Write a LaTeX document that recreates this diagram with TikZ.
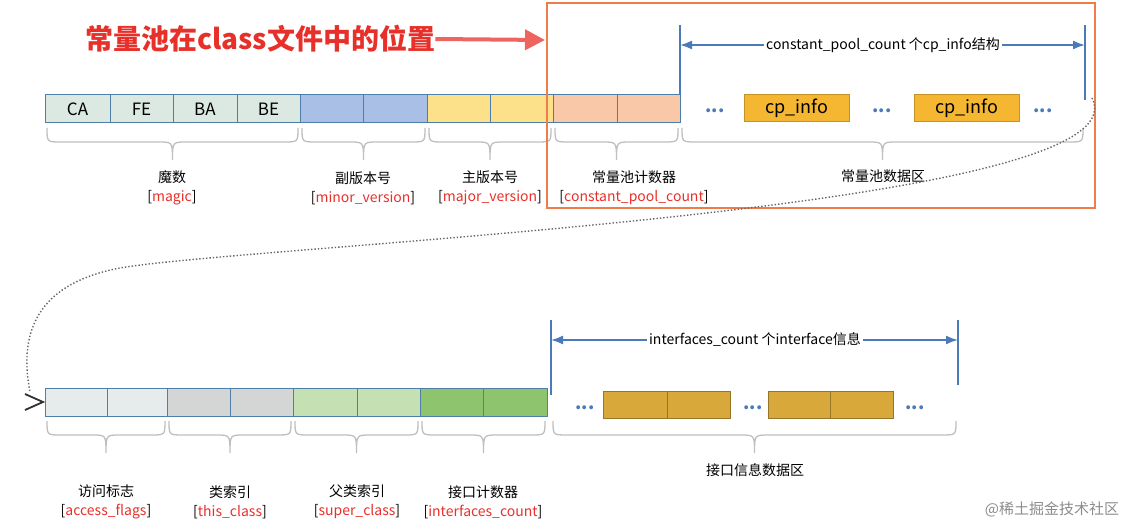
\documentclass[tikz,border=0pt]{standalone}
\usepackage{fontspec}
\setmainfont{Noto Sans CJK SC}
\usetikzlibrary{arrows.meta}
\definecolor{magicc}{HTML}{DCE9E3}
\definecolor{minorc}{HTML}{A9BFE6}
\definecolor{majorc}{HTML}{FDE18A}
\definecolor{cpcc}{HTML}{F8C8A8}
\definecolor{cpi}{HTML}{F5B731}
\definecolor{acc}{HTML}{E6EBEB}
\definecolor{thisc}{HTML}{D4D6D6}
\definecolor{superc}{HTML}{C5E0B2}
\definecolor{ifc}{HTML}{8FC46E}
\definecolor{ifi}{HTML}{D9A83A}
\definecolor{edge}{HTML}{4F7EA8}
\definecolor{arrc}{HTML}{4A7AB8}
\definecolor{orng}{HTML}{EE7D4A}
\definecolor{redt}{HTML}{E8302A}
\tikzset{
 cell/.style={draw=edge, line width=1pt, minimum height=28pt, inner sep=0pt, font=\fontsize{17}{19}\selectfont},
 brc/.style={draw=black!25, line width=1.3pt},
 lab/.style={font=\fontsize{14}{19}\selectfont, align=center},
 dim/.style={draw=arrc, line width=1.8pt, {Latex[length=12pt,width=9pt]}-{Latex[length=12pt,width=9pt]}},
 bar/.style={draw=arrc, line width=1.8pt},
 dots/.style={text=arrc, font=\fontsize{18}{20}\selectfont\bfseries},
}
\newcommand{\rl}[1]{\textcolor{redt}{#1}}
% \mybrc{x1}{x2}{y}: brace 32 deep
\newcommand{\mybrc}[3]{%
 \pgfmathsetmacro{\xm}{(#1+#2)/2}%
 \draw[brc] (#1,#3) .. controls (#1,#3+14) .. (#1+14,#3+14) -- (\xm-14,#3+14) .. controls (\xm,#3+14) .. (\xm,#3+32)
   .. controls (\xm,#3+14) .. (\xm+14,#3+14) -- (#2-14,#3+14) .. controls (#2,#3+14) .. (#2,#3);}
\begin{document}
\begin{tikzpicture}[x=1pt,y=-1pt]
\useasboundingbox (0,0) rectangle (1143,532);
\foreach \a/\b/\c/\t [count=\i] in {45/110/magicc/CA,110/173/magicc/FE,173/237/magicc/BA,237/300/magicc/BE,300/363/minorc/,363/427/minorc/,427/490/majorc/,490/553/majorc/,553/617/cpcc/,617/680/cpcc/}
  \node[cell, fill=\c, minimum width={(\b-\a)*1pt}] (t\i) at ({(\a+\b)/2},109) {\t};
\node[dots] (d1) at (715,111) {...};
\node[cell, draw=cpi!80!black, fill=cpi, minimum width=105pt, minimum height=27pt, font=\fontsize{18}{20}\selectfont] (cp1) at (797,108) {cp\_info};
\node[dots] (d2) at (882,111) {...};
\node[cell, draw=cpi!80!black, fill=cpi, minimum width=105pt, minimum height=27pt, font=\fontsize{18}{20}\selectfont] (cp2) at (967,108) {cp\_info};
\node[dots] (d3) at (1043,111) {...};
\mybrc{47}{298}{128}
\mybrc{302}{425}{128}
\mybrc{429}{551}{128}
\mybrc{555}{678}{128}
\mybrc{682}{1083}{128}
\node[lab] (l1) at (172,188) {魔数\\{[}\rl{magic}{]}};
\node[lab] (l2) at (363,188) {副版本号\\{[}\rl{minor\_version}{]}};
\node[lab] (l3) at (490,188) {主版本号\\{[}\rl{major\_version}{]}};
\node[lab] (l4) at (634,188) {常量池计数器\\{[}\rl{constant\_pool\_count}{]}};
\node[lab] (l5) at (883,176) {常量池数据区};
\coordinate (ba) at (680,25); \coordinate (bb) at (680,95);
\coordinate (bc) at (1085,25); \coordinate (bd) at (1085,100);
\draw[bar] (ba) -- (bb); \draw[bar] (bc) -- (bd);
\draw[dim] (680,45) -- (1085,45);
\node[lab, fill=white, inner sep=2pt] (dt) at (883,45) {constant\_pool\_count 个cp\_info结构};
\draw[orng, line width=2.8pt] (547,3) rectangle (1095,208);
\node[text=redt, font=\fontsize{28}{30}\selectfont\bfseries, anchor=west, inner sep=0pt] (ttl) at (85,39) {常量池在class文件中的位置};
\coordinate (ae) at (545,40);
\draw[redt!75, line width=4pt, -{Triangle[length=20pt,width=20pt]}] (ttl.east) -- (ae);
\coordinate (cs) at (1092,98); \coordinate (ce) at (30,392);
\draw[black!60, line width=1.4pt, dotted] (cs) .. controls (1150,210) and (250,245) .. (120,268) .. controls (30,285) and (20,340) .. (ce);
\draw[black!80, line width=1.8pt] (25,394) -- (43,402) -- (25,410);
\foreach \a/\b/\c [count=\i] in {45/107/acc,107/167/acc,167/230/thisc,230/293/thisc,293/357/superc,357/420/superc,420/483/ifc,483/547/ifc}
  \node[cell, fill=\c, minimum width={(\b-\a)*1pt}] (b\i) at ({(\a+\b)/2},402) {};
\node[dots] (e1) at (585,408) {...};
\node[cell, draw=ifi!70!black, fill=ifi, minimum width=64pt, minimum height=27pt] (i1) at (635,405) {};
\node[cell, draw=ifi!70!black, fill=ifi, minimum width=63pt, minimum height=27pt] (i2) at (698.5,405) {};
\node[dots] (e2) at (753,408) {...};
\node[cell, draw=ifi!70!black, fill=ifi, minimum width=62pt, minimum height=27pt] (i3) at (799,405) {};
\node[cell, draw=ifi!70!black, fill=ifi, minimum width=63pt, minimum height=27pt] (i4) at (861.5,405) {};
\node[dots] (e3) at (915,408) {...};
\mybrc{47}{165}{421}
\mybrc{169}{291}{421}
\mybrc{295}{418}{421}
\mybrc{422}{545}{421}
\mybrc{553}{956}{421}
\node[lab] (m1) at (106,502) {访问标志\\{[}\rl{access\_flags}{]}};
\node[lab] (m2) at (230,502) {类索引\\{[}\rl{this\_class}{]}};
\node[lab] (m3) at (357,502) {父类索引\\{[}\rl{super\_class}{]}};
\node[lab] (m4) at (483,502) {接口计数器\\{[}\rl{interfaces\_count}{]}};
\node[lab] (m5) at (755,470) {接口信息数据区};
\coordinate (ca) at (551,320); \coordinate (cb) at (551,395);
\coordinate (cc) at (958,320); \coordinate (cd) at (958,385);
\draw[bar] (ca) -- (cb); \draw[bar] (cc) -- (cd);
\draw[dim] (551,340) -- (958,340);
\node[lab, fill=white, inner sep=2pt] (db) at (755,340) {interfaces\_count 个interface信息};
\node[text=black!45, font=\fontsize{15}{17}\selectfont] (wm) at (1052,509) {@稀土掘金技术社区};
\end{tikzpicture}
\end{document}
